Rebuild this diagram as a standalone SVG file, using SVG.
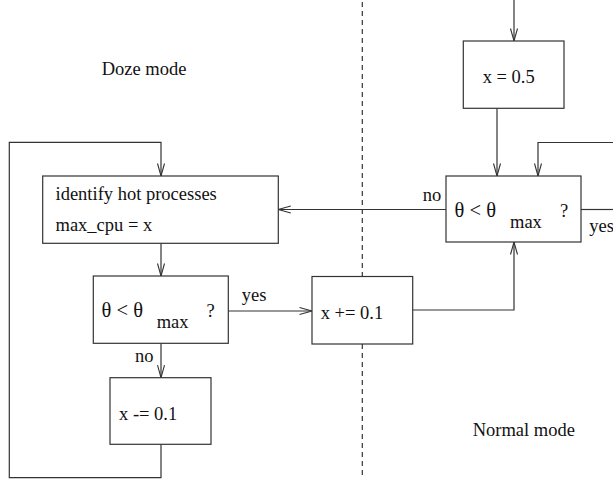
<svg xmlns="http://www.w3.org/2000/svg" width="613" height="479" viewBox="0 0 613 479">
<style>
.box{fill:#fff;stroke:#333;stroke-width:1.2}
.ln{fill:none;stroke:#333;stroke-width:1.2}
.dash{fill:none;stroke:#333;stroke-width:1.2;stroke-dasharray:5 4}
text{font-family:"Liberation Serif","Times New Roman",serif;font-size:18.5px;fill:#111}
.th{font-size:20.5px}
</style>
<defs>
<marker id="arr" markerUnits="userSpaceOnUse" markerWidth="14" markerHeight="10" refX="12.5" refY="3.5" orient="auto" overflow="visible">
<path d="M0,0 L12.5,3.5 L0,7" fill="none" stroke="#333" stroke-width="1.1"/>
</marker>
</defs>
<rect width="613" height="479" fill="#fff"/>
<line class="dash" x1="362.3" y1="2" x2="362.3" y2="479"/>
<text x="101.7" y="75">Doze mode</text>
<text x="472.7" y="436">Normal mode</text>
<g id="connectors">
<path class="ln" d="M514,0 V41" marker-end="url(#arr)"/>
<path class="ln" d="M497,108.3 V176" marker-end="url(#arr)"/>
<path class="ln" d="M613,142.5 H538 V176" marker-end="url(#arr)"/>
<path class="ln" d="M446,209.5 H278.3" marker-end="url(#arr)"/>
<path class="ln" d="M581,209.5 H613"/>
<path class="ln" d="M161,243.3 V276" marker-end="url(#arr)"/>
<path class="ln" d="M228.3,311 H312" marker-end="url(#arr)"/>
<path class="ln" d="M161,343.3 V377.7" marker-end="url(#arr)"/>
<path class="ln" d="M161,444.3 V477.7 H9.3 V142.3 H161 V176" marker-end="url(#arr)"/>
<path class="ln" d="M412.7,310 H514 V242" marker-end="url(#arr)"/>
<text x="422.7" y="200.5">no</text>
<text x="589.3" y="231.7">yes</text>
<text x="241.7" y="300.7">yes</text>
<text x="135" y="361.7">no</text>
</g>
<g id="init">
<rect class="box" x="463.3" y="41" width="100.7" height="67.3"/>
<text x="482.7" y="83.3">x = 0.5</text>
</g>
<g id="check-normal">
<rect class="box" x="446" y="176" width="135" height="66"/>
<text class="th" x="454.5" y="216.5">θ &lt; θ</text>
<text x="510" y="228">max</text>
<text x="560" y="216.5">?</text>
</g>
<g id="identify">
<rect class="box" x="42.7" y="176" width="235.6" height="67.3"/>
<text x="55.5" y="200.3">identify hot processes</text>
<text x="55.5" y="231">max_cpu = x</text>
</g>
<g id="check-doze">
<rect class="box" x="93.3" y="276" width="135" height="67.3"/>
<text class="th" x="101.5" y="316.5">θ &lt; θ</text>
<text x="156.7" y="328.3">max</text>
<text x="206.5" y="316.5">?</text>
</g>
<g id="increase">
<rect class="box" x="312" y="276.5" width="100.7" height="67.5"/>
<text x="320.7" y="319">x += 0.1</text>
</g>
<g id="decrease">
<rect class="box" x="110" y="377.7" width="101" height="66.6"/>
<text x="119" y="420">x -= 0.1</text>
</g>
</svg>
